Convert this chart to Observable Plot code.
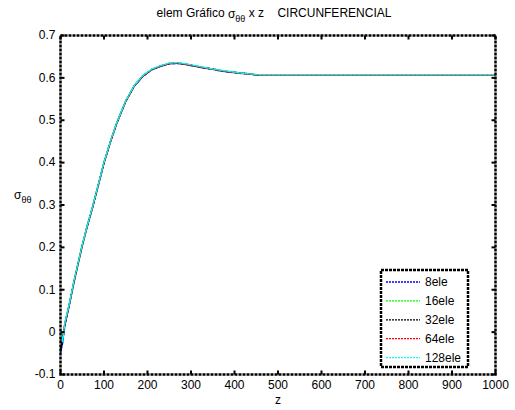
<!DOCTYPE html>
<html>
<head>
<meta charset="utf-8">
<script src="https://cdn.jsdelivr.net/npm/d3@7"></script>
<script src="https://cdn.jsdelivr.net/npm/@observablehq/plot@0.6"></script>
<style>
  html, body { margin: 0; padding: 0; background: #fff; }
  svg { font-family: "Liberation Sans", Arial, sans-serif; }
</style>
</head>
<body>
<div id="chart"></div>
<script>
const seriesNames = ["8ele", "16ele", "32ele", "64ele", "128ele"];
const seriesColors = ["#0000ff", "#00ff00", "#000000", "#ff0000", "#00ffff"];
const xTicks = [0, 100, 200, 300, 400, 500, 600, 700, 800, 900, 1000];
const yTicks = [-0.1, 0, 0.1, 0.2, 0.3, 0.4, 0.5, 0.6, 0.7];

const zValues = [0, 5, 10, 20, 30, 40, 50, 60, 75, 90, 100, 115, 130, 150, 170, 190, 210, 230, 250, 270, 290, 310, 330, 350, 370, 390, 410, 430, 450, 460, 500, 600, 700, 800, 900, 1000];

const s8 = [-0.050, -0.025, 0.015, 0.062, 0.112, 0.158, 0.203, 0.243, 0.298, 0.358, 0.398, 0.449, 0.494, 0.544, 0.581, 0.604, 0.619, 0.627, 0.633, 0.634, 0.631, 0.627, 0.623, 0.620, 0.616, 0.613, 0.611, 0.609, 0.607, 0.606, 0.606, 0.606, 0.606, 0.606, 0.606, 0.606];
const s16 = [-0.035, -0.015, 0.020, 0.066, 0.115, 0.161, 0.206, 0.244, 0.301, 0.360, 0.401, 0.451, 0.497, 0.546, 0.583, 0.606, 0.620, 0.628, 0.634, 0.635, 0.632, 0.628, 0.624, 0.621, 0.617, 0.614, 0.612, 0.610, 0.607, 0.606, 0.606, 0.606, 0.606, 0.606, 0.606, 0.606];
const s32 = [-0.042, -0.018, 0.018, 0.064, 0.114, 0.160, 0.205, 0.245, 0.300, 0.360, 0.400, 0.450, 0.495, 0.545, 0.582, 0.605, 0.620, 0.628, 0.634, 0.635, 0.632, 0.628, 0.624, 0.621, 0.617, 0.614, 0.612, 0.610, 0.607, 0.606, 0.606, 0.606, 0.606, 0.606, 0.606, 0.606];
const s64 = [-0.020, -0.010, 0.021, 0.065, 0.116, 0.160, 0.205, 0.246, 0.300, 0.361, 0.400, 0.450, 0.495, 0.545, 0.582, 0.605, 0.620, 0.628, 0.634, 0.635, 0.632, 0.628, 0.624, 0.621, 0.617, 0.614, 0.612, 0.610, 0.607, 0.606, 0.606, 0.606, 0.606, 0.606, 0.606, 0.606];
const s128 = [0.000, -0.022, 0.022, 0.066, 0.116, 0.161, 0.206, 0.246, 0.301, 0.361, 0.401, 0.451, 0.496, 0.546, 0.583, 0.606, 0.621, 0.629, 0.635, 0.636, 0.633, 0.629, 0.625, 0.621, 0.618, 0.615, 0.612, 0.610, 0.608, 0.607, 0.607, 0.607, 0.607, 0.607, 0.607, 0.607];

const allSeries = [s8, s16, s32, s64, s128];
const data = [];
allSeries.forEach((vals, si) => {
  vals.forEach((v, i) => data.push({series: seriesNames[si], z: zValues[i], s: v}));
});

// tick-mark length expressed in data units (≈4px)
const tickLenY = 0.8 * 4 / 339;
const tickLenX = 1000 * 4 / 435;
const xTickRows = xTicks.map(t => ({t}));
const yTickRows = yTicks.map(t => ({t}));

const W = 515, H = 410;
const plot = Plot.plot({
  width: W,
  height: H,
  marginLeft: 60,
  marginRight: 20,
  marginTop: 35,
  marginBottom: 36,
  style: {fontFamily: "Liberation Sans, Arial, sans-serif", fontSize: "12px", background: "#fff", color: "#000"},
  x: {domain: [0, 1000], label: null},
  y: {domain: [-0.1, 0.7], label: null},
  marks: [
    ...seriesNames.map((name, i) => Plot.line(data.filter(d => d.series === name), {
      x: "z", y: "s", stroke: seriesColors[i], strokeWidth: 1.4, strokeDasharray: "3,1.5"
    })),
    Plot.axisX({ticks: xTicks, tickSize: 0, tickPadding: 6, tickFormat: d => String(d), label: null, fontSize: 12}),
    Plot.axisY({ticks: yTicks, tickSize: 0, tickPadding: 5, tickFormat: d => Math.abs(d) < 1e-9 ? "0" : d.toFixed(1), label: null, fontSize: 12}),
    // inward tick marks on all four sides
    Plot.link(xTickRows, {x1: "t", x2: "t", y1: -0.1, y2: -0.1 + tickLenY, stroke: "#000", strokeWidth: 2}),
    Plot.link(xTickRows, {x1: "t", x2: "t", y1: 0.7, y2: 0.7 - tickLenY, stroke: "#000", strokeWidth: 2}),
    Plot.link(yTickRows, {y1: "t", y2: "t", x1: 0, x2: tickLenX, stroke: "#000", strokeWidth: 2}),
    Plot.link(yTickRows, {y1: "t", y2: "t", x1: 1000, x2: 1000 - tickLenX, stroke: "#000", strokeWidth: 2}),
    Plot.frame({stroke: "#000", strokeWidth: 2.5, strokeDasharray: "3,1"})
  ]
});

document.getElementById("chart").appendChild(plot);
const svg = d3.select(plot);

// Title
const title = svg.append("text")
  .attr("x", 274).attr("y", 17)
  .attr("text-anchor", "middle")
  .attr("font-size", 12)
  .attr("fill", "#000")
  .attr("xml:space", "preserve")
  .style("white-space", "pre");
title.append("tspan").text("elem Gráfico ");
title.append("tspan").attr("dy", 1).text("σ");
title.append("tspan").attr("dy", 4).attr("font-size", 9).text("θθ");
title.append("tspan").attr("dy", -5).text(" x z    CIRCUNFERENCIAL");

// Y label
const ylab = svg.append("text")
  .attr("x", 14).attr("y", 199)
  .attr("text-anchor", "start")
  .attr("font-size", 12).attr("fill", "#000");
ylab.append("tspan").text("σ");
ylab.append("tspan").attr("dy", 4).attr("font-size", 9).text("θθ");

// X label
svg.append("text").attr("x", 278).attr("y", 404)
  .attr("text-anchor", "middle").attr("font-size", 12).attr("fill", "#000").text("z");

// Legend
const lg = svg.append("g");
const lx0 = 381, lx1 = 468, ly0 = 270, ly1 = 367;
lg.append("rect").attr("x", lx0).attr("y", ly0).attr("width", lx1 - lx0).attr("height", ly1 - ly0)
  .attr("fill", "#fff").attr("stroke", "#000").attr("stroke-width", 2.5).attr("stroke-dasharray", "3,1");
seriesNames.forEach((name, i) => {
  const y = 282 + i * 18.9;
  lg.append("line").attr("x1", 386).attr("x2", 420).attr("y1", y).attr("y2", y)
    .attr("stroke", seriesColors[i]).attr("stroke-width", 1.3).attr("stroke-dasharray", "2,1");
  lg.append("text").attr("x", 425).attr("y", y).attr("dy", "0.35em")
    .attr("text-anchor", "start")
    .attr("font-size", 12).attr("fill", "#000").text(name);
});
</script>
</body>
</html>
